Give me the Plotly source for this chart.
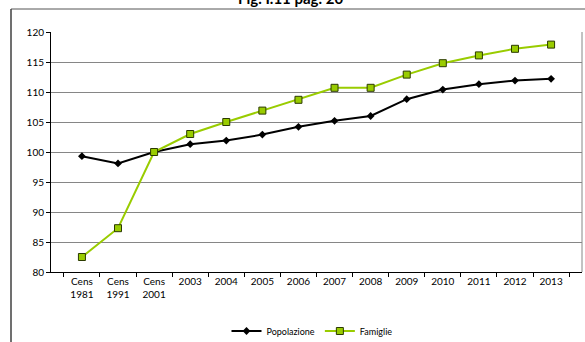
import plotly.graph_objects as go

categories = ["Cens<br>1981", "Cens<br>1991", "Cens<br>2001", "2003", "2004", "2005", "2006",
              "2007", "2008", "2009", "2010", "2011", "2012", "2013"]
popolazione = [99.3, 98.1, 100.0, 101.3, 101.9, 102.9, 104.2, 105.2, 106.0, 108.8, 110.4, 111.3, 111.9, 112.2]
famiglie = [82.5, 87.3, 100.0, 103.0, 105.0, 106.9, 108.7, 110.7, 110.7, 112.9, 114.8, 116.1, 117.2, 117.9]
title_text = "Fig. I.11 pag. 20"

FONT = "Lato"
fig = go.Figure()
fig.add_trace(go.Scatter(
    x=categories, y=popolazione, name="Popolazione", mode="lines+markers",
    line=dict(color="#000000", width=2),
    marker=dict(symbol="diamond", size=6, color="#000000"),
))
fig.add_trace(go.Scatter(
    x=categories, y=famiglie, name="Famiglie", mode="lines+markers",
    line=dict(color="#99CC00", width=2),
    marker=dict(symbol="square", size=7, color="#99CC00", line=dict(color="#2b3a00", width=1)),
))

L, R, T, B = 51, 3, 32, 70
W, H = 585, 342
pw, ph = W - L - R, H - T - B

def px_x(p):
    return (p - L) / pw

def px_y(p):
    return (H - B - p) / ph

fig.update_layout(
    width=W, height=H,
    margin=dict(l=L, r=R, t=T, b=B, autoexpand=False),
    paper_bgcolor="white", plot_bgcolor="white",
    font=dict(family=FONT, size=10, color="#000000"),
    showlegend=True,
    legend=dict(orientation="h", x=px_x(312), xanchor="center", y=px_y(331), yanchor="middle",
                font=dict(size=9, family=FONT), itemwidth=30, bgcolor="rgba(0,0,0,0)"),
    xaxis=dict(type="category", tickson="boundaries", ticks="outside", ticklen=4,
               tickcolor="#000000", showline=True, linecolor="#000000", linewidth=1,
               showgrid=False, tickfont=dict(size=10, family=FONT), fixedrange=True),
    yaxis=dict(range=[80, 120], dtick=5, ticks="outside", ticklen=4, tickcolor="#000000",
               showline=True, linecolor="#000000", linewidth=1,
               showgrid=True, gridcolor="#868686", gridwidth=1,
               tickfont=dict(size=10, family=FONT), zeroline=False, fixedrange=True),
    annotations=[dict(text="<b>" + title_text + "</b>", xref="paper", yref="paper",
                      x=px_x(290), y=px_y(9), xanchor="center", yanchor="bottom",
                      showarrow=False, font=dict(size=15, family=FONT))],
    shapes=[
        dict(type="line", xref="paper", yref="paper", x0=px_x(11), x1=px_x(586), y0=px_y(9), y1=px_y(9),
             line=dict(color="#555555", width=1)),
        dict(type="line", xref="paper", yref="paper", x0=px_x(11), x1=px_x(11), y0=px_y(9), y1=px_y(343),
             line=dict(color="#404040", width=1.5)),
        dict(type="line", xref="paper", yref="paper", x0=1, x1=1, y0=0, y1=1,
             line=dict(color="#868686", width=1)),
    ],
)
fig.write_html("out.html", config={"displayModeBar": False},
               post_script="document.body.style.margin='0';document.body.style.overflow='hidden';")
